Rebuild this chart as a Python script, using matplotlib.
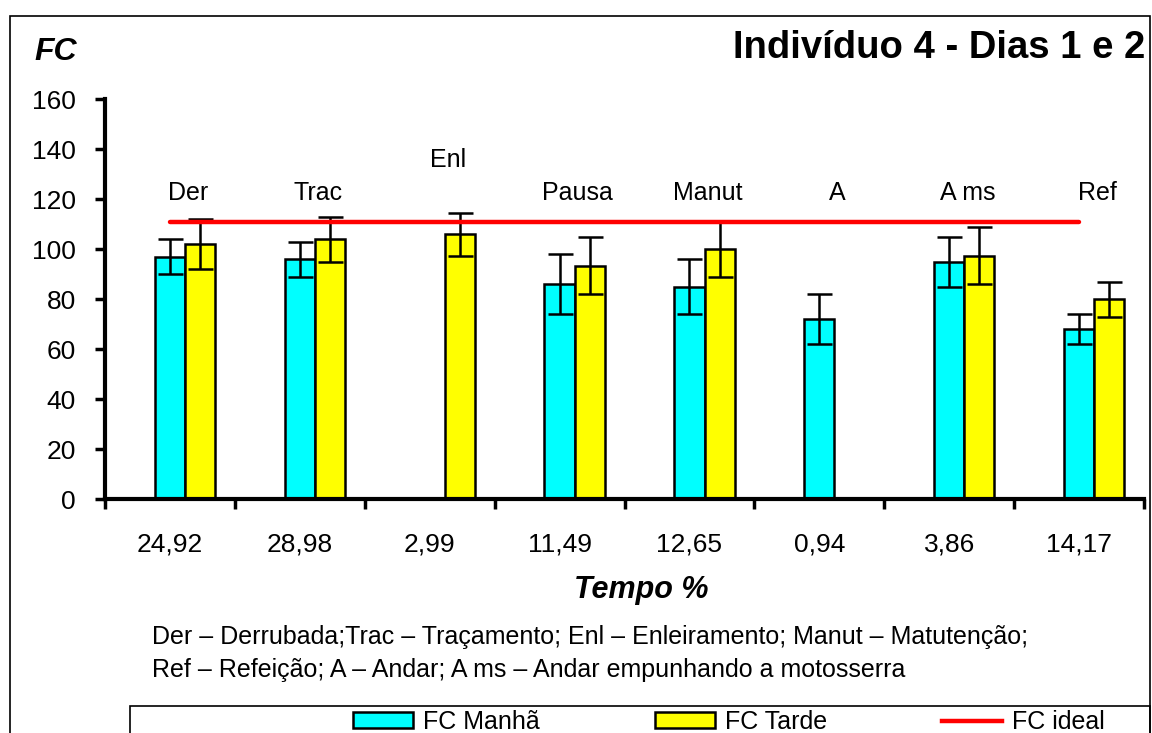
import numpy as np
import matplotlib
matplotlib.use("Agg")
import matplotlib.pyplot as plt
from matplotlib.patches import Rectangle, Patch
from matplotlib.lines import Line2D

plt.rcParams['font.family'] = ['Liberation Sans', 'DejaVu Sans']

# ---- data ----
activities = ["Der", "Trac", "Enl", "Pausa", "Manut", "A", "A ms", "Ref"]
tempo_labels = ["24,92", "28,98", "2,99", "11,49", "12,65", "0,94", "3,86", "14,17"]
fc_manha = [97, 96, np.nan, 86, 85, 72, 95, 68]
fc_manha_err = [7, 7, np.nan, 12, 11, 10, 10, 6]
fc_tarde = [102, 104, 106, 93.5, 100, np.nan, 97.5, 80]
fc_tarde_err = [10, 9, 8.5, 11.3, 11, np.nan, 11.3, 7]
fc_ideal = [111, 111, 111, 111, 111, 111, 111, 111]
y_ticks = [0, 20, 40, 60, 80, 100, 120, 140, 160]

W, H = 1152, 733
fig = plt.figure(figsize=(W / 100, H / 100), dpi=100)

# axes placement (pixels)
ax_l, ax_r, ax_b, ax_t = 105, 1144, 499.3, 99.3
ax = fig.add_axes([ax_l / W, (H - ax_b) / H, (ax_r - ax_l) / W, (ax_b - ax_t) / H])

x = np.arange(len(activities))
bw = 0.232
cyan = "#00FFFF"
yellow = "#FFFF00"

ax.bar(x, fc_manha, width=bw, color=cyan, edgecolor="black", linewidth=1.8, zorder=2)
ax.bar(x + bw, fc_tarde, width=bw, color=yellow, edgecolor="black", linewidth=1.8, zorder=2)
ax.errorbar(x, fc_manha, yerr=fc_manha_err, fmt="none", ecolor="black",
            elinewidth=1.8, capsize=9, capthick=1.8, zorder=3)
ax.errorbar(x + bw, fc_tarde, yerr=fc_tarde_err, fmt="none", ecolor="black",
            elinewidth=1.8, capsize=9, capthick=1.8, zorder=3)
ax.plot(x, fc_ideal, color="#FF0000", linewidth=3.2, solid_capstyle="round", zorder=4)

# activity labels
for i, lab in enumerate(activities):
    yy = 135.7 if lab == "Enl" else 122.5
    ax.text(i + bw * 0.6, yy, lab, ha="center", va="center", fontsize=18)

ax.set_xlim(-0.5, len(activities) - 0.5)
ax.set_ylim(0, 160)
ax.set_yticks(y_ticks)
ax.set_yticklabels([str(v) for v in y_ticks], fontsize=19)
ax.set_xticks(np.arange(len(activities) + 1) - 0.5)
ax.set_xticklabels([])
ax.set_xticks(x, minor=True)
ax.set_xticklabels(tempo_labels, minor=True, fontsize=19)
ax.tick_params(axis="x", which="minor", length=0, pad=24)
ax.tick_params(axis="x", which="major", length=7, width=2.5, direction="out")
ax.tick_params(axis="y", which="major", length=7, width=2.5, direction="out", pad=14)
for s in ["top", "right"]:
    ax.spines[s].set_visible(False)
ax.spines["left"].set_linewidth(3)
ax.spines["bottom"].set_linewidth(3)
ax.patch.set_alpha(0)

# texts
fig.text(34 / W, 1 - 52 / H, "FC", fontsize=23, fontweight="bold", fontstyle="italic",
         ha="left", va="center")
fig.text(1145 / W, 1 - 48 / H, "Indivíduo 4 - Dias 1 e 2", fontsize=27.5, fontweight="bold",
         ha="right", va="center")
fig.text(641 / W, 1 - 590 / H, "Tempo %", fontsize=22, fontweight="bold", fontstyle="italic",
         ha="center", va="center")
fig.text(152 / W, 1 - 637 / H,
         "Der – Derrubada;Trac – Traçamento; Enl – Enleiramento; Manut – Matutenção;",
         fontsize=18, ha="left", va="center")
fig.text(152 / W, 1 - 670 / H,
         "Ref – Refeição; A – Andar; A ms – Andar empunhando a motosserra",
         fontsize=18, ha="left", va="center")

# outer border
fig.patches.append(Rectangle((10 / W, -0.05), 1140 / W, 1.05 - 16 / H,
                             transform=fig.transFigure, fill=False,
                             edgecolor="black", linewidth=1.2, zorder=0))
# legend box
fig.patches.append(Rectangle((130 / W, -0.05), 1020 / W, 0.05 + (H - 706) / H,
                             transform=fig.transFigure, fill=False,
                             edgecolor="black", linewidth=1.2, zorder=0))

handles = [Patch(facecolor=cyan, edgecolor="black", linewidth=1.8),
           Patch(facecolor=yellow, edgecolor="black", linewidth=1.8),
           Line2D([0], [0], color="#FF0000", linewidth=3.2)]
leg = fig.legend(handles, ["FC Manhã", "FC Tarde", "FC ideal"], loc="center left",
                 bbox_to_anchor=(353 / W, 1 - 722 / H), ncol=3, frameon=False,
                 fontsize=18, handlelength=2.4, handleheight=0.6, columnspacing=4.6,
                 handletextpad=0.4, borderpad=0, borderaxespad=0)

fig.savefig("out.png", dpi=100)
